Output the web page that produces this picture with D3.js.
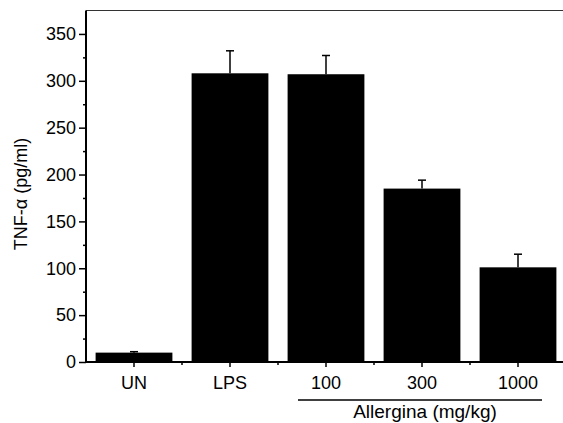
<!DOCTYPE html>
<html lang="en">
<head>
    <meta charset="UTF-8">
    <title>TNF-alpha</title>
    <script src="https://d3js.org/d3.v7.min.js"></script>
    <style>
        body { margin: 0; background: #fff; }
        text { font-family: "Liberation Sans", Arial, sans-serif; fill: #000; }
        .bar { fill: #000; }
        .err { stroke: #000; stroke-width: 1.5px; fill: none; }
    </style>
</head>
<body>
    <div id="chart"></div>
    <script>
        const categories = ["UN", "LPS", "100", "300", "1000"];
        const means = [10, 308, 307, 185, 101];
        const errors = [1, 24, 20, 9, 14];
        const yTicks = [0, 50, 100, 150, 200, 250, 300, 350];
        const yMinorTicks = [25, 75, 125, 175, 225, 275, 325];

        const width = 563, height = 423;
        const plotLeft = 86, plotTop = 10.5, plotBottom = 362;

        const svg = d3.select("#chart").append("svg")
            .attr("width", width)
            .attr("height", height);

        const x = d3.scaleBand()
            .domain(categories)
            .range([plotLeft, plotLeft + 480])
            .paddingInner(0.2)
            .paddingOuter(0.1);

        const y = d3.scaleLinear()
            .domain([0, 375])
            .range([plotBottom, plotTop]);

        // bars
        svg.selectAll(".bar")
            .data(means)
            .join("rect")
            .attr("class", "bar")
            .attr("x", (d, i) => x(categories[i]))
            .attr("width", x.bandwidth())
            .attr("y", d => y(d))
            .attr("height", d => y(0) - y(d));

        // error bars (upper only)
        const cx = i => x(categories[i]) + x.bandwidth() / 2;
        svg.selectAll(".err-v")
            .data(means)
            .join("line")
            .attr("class", "err")
            .attr("x1", (d, i) => cx(i)).attr("x2", (d, i) => cx(i))
            .attr("y1", d => y(d))
            .attr("y2", (d, i) => y(d + errors[i]));
        svg.selectAll(".err-c")
            .data(means)
            .join("line")
            .attr("class", "err")
            .attr("x1", (d, i) => cx(i) - 4).attr("x2", (d, i) => cx(i) + 4)
            .attr("y1", (d, i) => y(d + errors[i]))
            .attr("y2", (d, i) => y(d + errors[i]));

        // top frame line
        svg.append("line")
            .attr("x1", plotLeft).attr("x2", width)
            .attr("y1", plotTop).attr("y2", plotTop)
            .attr("stroke", "#333").attr("stroke-width", 1);

        // y axis
        const yAxis = svg.append("g")
            .attr("transform", `translate(${plotLeft},0)`)
            .call(d3.axisLeft(y).tickValues(yTicks).tickSize(7).tickPadding(3).tickSizeOuter(0));
        yAxis.select(".domain").remove();
        yAxis.selectAll("text").attr("font-size", 18).attr("font-family", "Liberation Sans, Arial, sans-serif").attr("fill", "#000");
        yAxis.selectAll("line").attr("stroke-width", 1.5);
        svg.append("g")
            .attr("transform", `translate(${plotLeft},0)`)
            .call(d3.axisLeft(y).tickValues(yMinorTicks).tickSize(3).tickFormat(""))
            .call(g => g.select(".domain").remove())
            .selectAll("line").attr("stroke-width", 1.5);
        svg.append("line")
            .attr("x1", plotLeft).attr("x2", plotLeft)
            .attr("y1", plotTop).attr("y2", plotBottom + 1)
            .attr("stroke", "#000").attr("stroke-width", 2);

        // x axis
        const xAxis = svg.append("g")
            .attr("transform", `translate(0,${plotBottom})`)
            .call(d3.axisBottom(x).tickSize(5).tickPadding(9).tickSizeOuter(0));
        xAxis.select(".domain").remove();
        xAxis.selectAll("text").attr("font-size", 18).attr("font-family", "Liberation Sans, Arial, sans-serif").attr("fill", "#000");
        xAxis.selectAll("line").attr("stroke-width", 1.5);
        const bounds = categories.slice(1).map(c => x(c) - x.step() * x.paddingInner() / 2);
        svg.selectAll(".minor-x")
            .data(bounds)
            .join("line")
            .attr("x1", d => d).attr("x2", d => d)
            .attr("y1", plotBottom).attr("y2", plotBottom + 3)
            .attr("stroke", "#000").attr("stroke-width", 1.5);
        svg.append("line")
            .attr("x1", plotLeft - 1).attr("x2", width)
            .attr("y1", plotBottom).attr("y2", plotBottom)
            .attr("stroke", "#000").attr("stroke-width", 2);

        // group underline and label
        svg.append("line")
            .attr("x1", 298).attr("x2", 542)
            .attr("y1", 400).attr("y2", 400)
            .attr("stroke", "#000").attr("stroke-width", 1.5);
        svg.append("text")
            .attr("x", 425).attr("y", 418)
            .attr("text-anchor", "middle")
            .attr("font-size", 19)
            .text("Allergina (mg/kg)");

        // y title
        svg.append("text")
            .attr("transform", "translate(27,194) rotate(-90)")
            .attr("text-anchor", "middle")
            .attr("font-size", 18)
            .text("TNF-α (pg/ml)");
    </script>
</body>
</html>
